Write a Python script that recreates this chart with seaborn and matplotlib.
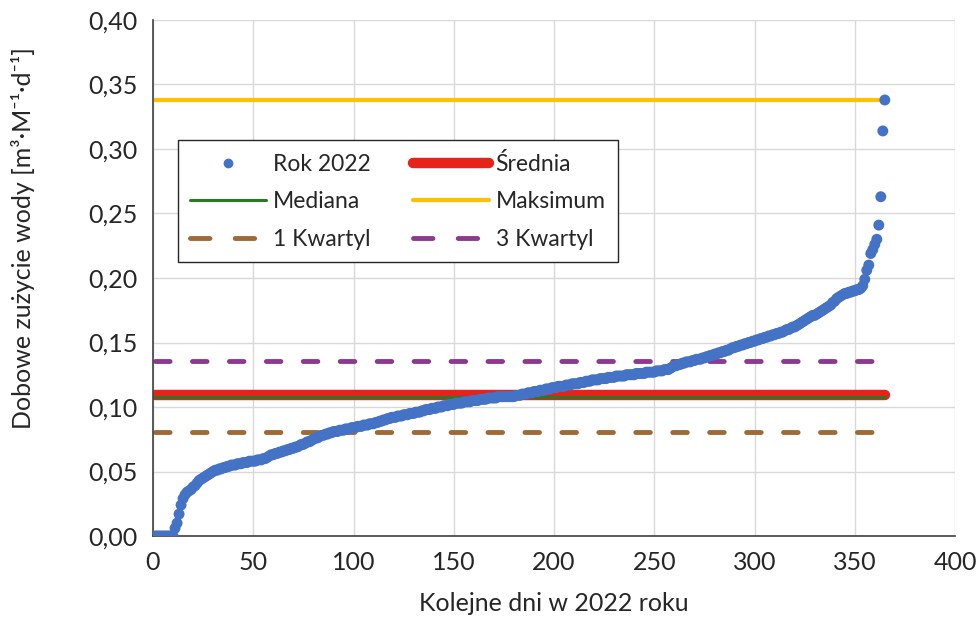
import numpy as np
import pandas as pd
import seaborn as sns
import matplotlib.pyplot as plt
from matplotlib.ticker import FuncFormatter, MultipleLocator
from matplotlib.lines import Line2D

# dobowe zuzycie wody, posortowane rosnaco
zuzycie = [
    0.000, 0.000, 0.000, 0.000, 0.000, 0.000, 0.000, 0.000, 0.000, 0.000,
    0.006, 0.010, 0.017, 0.024, 0.029, 0.032, 0.034, 0.035, 0.036, 0.038,
    0.039, 0.041, 0.043, 0.044, 0.045, 0.046, 0.047, 0.048, 0.049, 0.050,
    0.051, 0.051, 0.052, 0.052, 0.053, 0.053, 0.054, 0.054, 0.055, 0.055,
    0.055, 0.056, 0.056, 0.056, 0.057, 0.057, 0.057, 0.058, 0.058, 0.058,
    0.058, 0.059, 0.059, 0.059, 0.060, 0.060, 0.061, 0.062, 0.063, 0.063,
    0.064, 0.064, 0.065, 0.065, 0.066, 0.066, 0.067, 0.067, 0.068, 0.068,
    0.069, 0.069, 0.070, 0.071, 0.071, 0.072, 0.073, 0.073, 0.074, 0.075,
    0.076, 0.076, 0.077, 0.078, 0.078, 0.079, 0.079, 0.080, 0.080, 0.081,
    0.081, 0.081, 0.082, 0.082, 0.082, 0.083, 0.083, 0.083, 0.084, 0.084,
    0.084, 0.085, 0.085, 0.085, 0.086, 0.086, 0.086, 0.087, 0.087, 0.087,
    0.088, 0.088, 0.089, 0.089, 0.090, 0.090, 0.091, 0.091, 0.092, 0.092,
    0.092, 0.093, 0.093, 0.093, 0.094, 0.094, 0.094, 0.095, 0.095, 0.095,
    0.096, 0.096, 0.096, 0.097, 0.097, 0.098, 0.098, 0.098, 0.099, 0.099,
    0.099, 0.100, 0.100, 0.100, 0.101, 0.101, 0.101, 0.102, 0.102, 0.102,
    0.103, 0.103, 0.103, 0.103, 0.104, 0.104, 0.104, 0.104, 0.105, 0.105,
    0.105, 0.105, 0.106, 0.106, 0.106, 0.106, 0.107, 0.107, 0.107, 0.107,
    0.107, 0.108, 0.108, 0.108, 0.108, 0.108, 0.108, 0.108, 0.108, 0.108,
    0.109, 0.109, 0.109, 0.110, 0.110, 0.110, 0.111, 0.111, 0.111, 0.112,
    0.112, 0.112, 0.113, 0.113, 0.113, 0.114, 0.114, 0.114, 0.115, 0.115,
    0.115, 0.116, 0.116, 0.116, 0.116, 0.117, 0.117, 0.117, 0.118, 0.118,
    0.118, 0.118, 0.119, 0.119, 0.119, 0.120, 0.120, 0.120, 0.121, 0.121,
    0.121, 0.121, 0.122, 0.122, 0.122, 0.122, 0.123, 0.123, 0.123, 0.123,
    0.124, 0.124, 0.124, 0.124, 0.124, 0.125, 0.125, 0.125, 0.125, 0.125,
    0.126, 0.126, 0.126, 0.126, 0.126, 0.127, 0.127, 0.127, 0.127, 0.127,
    0.128, 0.128, 0.128, 0.128, 0.129, 0.129, 0.129, 0.130, 0.131, 0.132,
    0.132, 0.133, 0.133, 0.134, 0.134, 0.135, 0.135, 0.135, 0.136, 0.136,
    0.137, 0.137, 0.137, 0.138, 0.138, 0.139, 0.139, 0.140, 0.140, 0.141,
    0.141, 0.142, 0.142, 0.143, 0.143, 0.144, 0.144, 0.145, 0.146, 0.146,
    0.147, 0.147, 0.148, 0.148, 0.149, 0.149, 0.150, 0.150, 0.151, 0.151,
    0.152, 0.152, 0.153, 0.153, 0.154, 0.154, 0.155, 0.155, 0.156, 0.156,
    0.157, 0.157, 0.158, 0.158, 0.159, 0.160, 0.160, 0.161, 0.162, 0.162,
    0.163, 0.164, 0.165, 0.166, 0.167, 0.168, 0.169, 0.170, 0.171, 0.171,
    0.172, 0.173, 0.174, 0.175, 0.176, 0.177, 0.178, 0.179, 0.181, 0.182,
    0.184, 0.185, 0.186, 0.187, 0.188, 0.188, 0.189, 0.189, 0.190, 0.190,
    0.191, 0.191, 0.192, 0.194, 0.199, 0.206, 0.210, 0.219, 0.222, 0.226,
    0.230, 0.241, 0.263, 0.314, 0.338,
]
dni = list(range(1, len(zuzycie) + 1))

# statystyki
srednia = 0.109
mediana = 0.108
maksimum = 0.338
kwartyl_1 = 0.081
kwartyl_3 = 0.136

sns.set_style("white")
plt.rcParams['font.family'] = ['Lato', 'DejaVu Sans']

fig = plt.figure(figsize=(9.79, 6.18), dpi=100)
ax = fig.add_axes([153 / 979, 82 / 618, 802 / 979, 516 / 618])

df = pd.DataFrame({'dzien': dni, 'wartosc': zuzycie})

# linie statystyk
kreska = (0, (3.0, 4.6))
linie = [
    ('Średnia', srednia, '#E5231B', 7.5, '-'),
    ('Mediana', mediana, '#2A7A23', 2.2, '-'),
    ('Maksimum', maksimum, '#FFC000', 3.0, '-'),
    ('1 Kwartyl', kwartyl_1, '#9E6A36', 3.5, kreska),
    ('3 Kwartyl', kwartyl_3, '#8B3A8F', 3.5, kreska),
]
for nazwa, wart, kolor, lw, ls in linie:
    sns.lineplot(x=dni, y=[wart] * len(dni), ax=ax, color=kolor, lw=lw,
                 linestyle=ls, solid_capstyle='round', dash_capstyle='round',
                 zorder=2)

sns.scatterplot(data=df, x='dzien', y='wartosc', ax=ax, color='#4472C4',
                s=62, edgecolor='none', zorder=3, legend=False)

ax.set_xlim(0, 400)
ax.set_ylim(0, 0.40)
ax.xaxis.set_major_locator(MultipleLocator(50))
ax.yaxis.set_major_locator(MultipleLocator(0.05))
ax.yaxis.set_major_formatter(FuncFormatter(lambda v, p: f"{v:.2f}".replace('.', ',')))
ax.grid(True, color='#D9D9D9', lw=1.0)
ax.set_axisbelow(True)
for s in ['top', 'right']:
    ax.spines[s].set_visible(False)
for s in ['left', 'bottom']:
    ax.spines[s].set_color('#404040')
    ax.spines[s].set_linewidth(1.2)
ax.tick_params(length=0, labelsize=18, colors='#404040', pad=11)
for t in ax.get_xticklabels() + ax.get_yticklabels():
    t.set_color('#262626')

ax.set_xlabel('Kolejne dni w 2022 roku', fontsize=18, color='#262626')
ax.set_ylabel('Dobowe zużycie wody [m³·M⁻¹·d⁻¹]', fontsize=18, color='#262626')
ax.xaxis.set_label_coords(0.5, -0.108)
ax.yaxis.set_label_coords(-0.147, 0.578)

# legenda w kolejnosci kolumnowej (dwie kreski w uchwycie kwartyli)
h_rok = Line2D([], [], marker='o', color='#4472C4', linestyle='none', markersize=6)
uchwyty = {}
for nazwa, _, k, lw, ls in linie:
    ls_leg = (0, (4.0, 5.2)) if ls == kreska else ls
    uchwyty[nazwa] = Line2D([], [], color=k, lw=lw, linestyle=ls_leg,
                            solid_capstyle='round', dash_capstyle='round')
handles = [h_rok, uchwyty['Mediana'], uchwyty['1 Kwartyl'],
           uchwyty['Średnia'], uchwyty['Maksimum'], uchwyty['3 Kwartyl']]
labels = ['Rok 2022', 'Mediana', '1 Kwartyl', 'Średnia', 'Maksimum', '3 Kwartyl']
leg = ax.legend(handles, labels, ncol=2, loc='upper left',
                bbox_to_anchor=(0.031, 0.767), fontsize=16.5, frameon=True,
                fancybox=False, edgecolor='#262626', framealpha=1,
                handlelength=3.3, handletextpad=0.3, columnspacing=1.85,
                labelspacing=0.72, borderpad=0.55, borderaxespad=0)
leg.get_frame().set_linewidth(1.0)
for t in leg.get_texts():
    t.set_color('#262626')

fig.savefig('out.png', dpi=100)
